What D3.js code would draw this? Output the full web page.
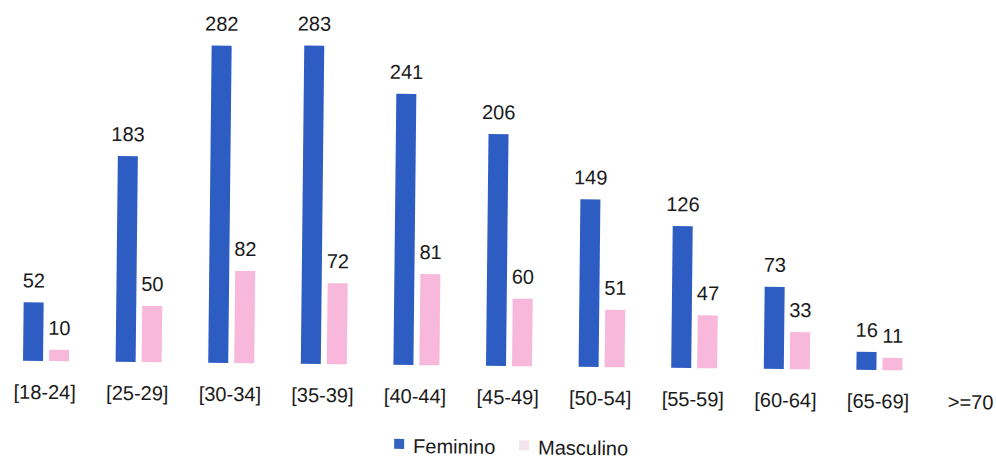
<!DOCTYPE html>
<html>
<head>
<meta charset="utf-8">
<script src="https://cdn.jsdelivr.net/npm/d3@7"></script>
<style>
  html, body { margin: 0; padding: 0; background: #ffffff; }
  svg { display: block; }
  text { font-family: "Liberation Sans", Arial, sans-serif; fill: #1a1a1a; }
</style>
</head>
<body>
<svg id="chart" width="996" height="459"></svg>
<script>
// Age groups on the x axis
const categories = ["[18-24]", "[25-29]", "[30-34]", "[35-39]", "[40-44]", "[45-49]",
                    "[50-54]", "[55-59]", "[60-64]", "[65-69]", ">=70"];
// Counts per age group (the last group has no bars)
const feminino  = [52, 183, 282, 283, 241, 206, 149, 126, 73, 16, null];
const masculino = [10, 50, 82, 72, 81, 60, 51, 47, 33, 11, null];
const seriesNames = ["Feminino", "Masculino"];
const seriesColors = ["#2d5cc2", "#f8b8dc"];
const legendColors = ["#3461bd", "#f3e3ec"];

const svg = d3.select("#chart");

// Whole drawing sits on a slight clockwise tilt
const root = svg.append("g").attr("transform", "rotate(0.62, 500, 366)");

const x = d3.scaleBand().domain(categories).range([-1.3, 1017.3]).paddingInner(0).paddingOuter(0);
const xs = d3.scaleBand().domain(seriesNames).range([24.3, 70.3]).paddingInner(0.23).paddingOuter(0);
const y = d3.scaleLinear().domain([0, 300]).range([366, 28.5]);

const rows = categories.map((c, i) => ({
  cat: c,
  values: [
    { name: seriesNames[0], value: feminino[i], color: seriesColors[0] },
    { name: seriesNames[1], value: masculino[i], color: seriesColors[1] }
  ].filter(d => d.value != null)
}));

const groups = root.append("g").selectAll("g.grp")
  .data(rows).join("g")
  .attr("class", "grp")
  .attr("transform", d => `translate(${x(d.cat)},0)`);

groups.selectAll("rect")
  .data(d => d.values).join("rect")
  .attr("x", d => xs(d.name))
  .attr("width", xs.bandwidth())
  .attr("y", d => y(d.value))
  .attr("height", d => y(0) - y(d.value))
  .attr("fill", d => d.color);

groups.selectAll("text.val")
  .data(d => d.values).join("text")
  .attr("class", "val")
  .attr("x", d => xs(d.name) + xs.bandwidth() / 2)
  .attr("y", d => y(d.value) - 15)
  .attr("text-anchor", "middle")
  .attr("font-size", 20)
  .text(d => d.value);

// Category axis (labels only)
const xAxis = d3.axisBottom(x).tickSize(0).tickPadding(0);
const axisG = root.append("g")
  .attr("transform", "translate(0,404)")
  .call(xAxis);
axisG.select(".domain").remove();
axisG.selectAll("text")
  .attr("font-size", 20)
  .attr("dy", 0)
  .attr("fill", "#1a1a1a")
  .attr("font-family", "Liberation Sans, Arial, sans-serif");

// Legend
const legendItems = [
  { name: seriesNames[0], color: legendColors[0], x: 395 },
  { name: seriesNames[1], color: legendColors[1], x: 520 }
];
const lg = root.append("g").selectAll("g")
  .data(legendItems).join("g")
  .attr("transform", d => `translate(${d.x},440)`);
lg.append("rect").attr("width", 10).attr("height", 10).attr("fill", d => d.color);
lg.append("text")
  .attr("x", 19).attr("y", 14)
  .attr("font-size", 20)
  .text(d => d.name);
</script>
</body>
</html>
